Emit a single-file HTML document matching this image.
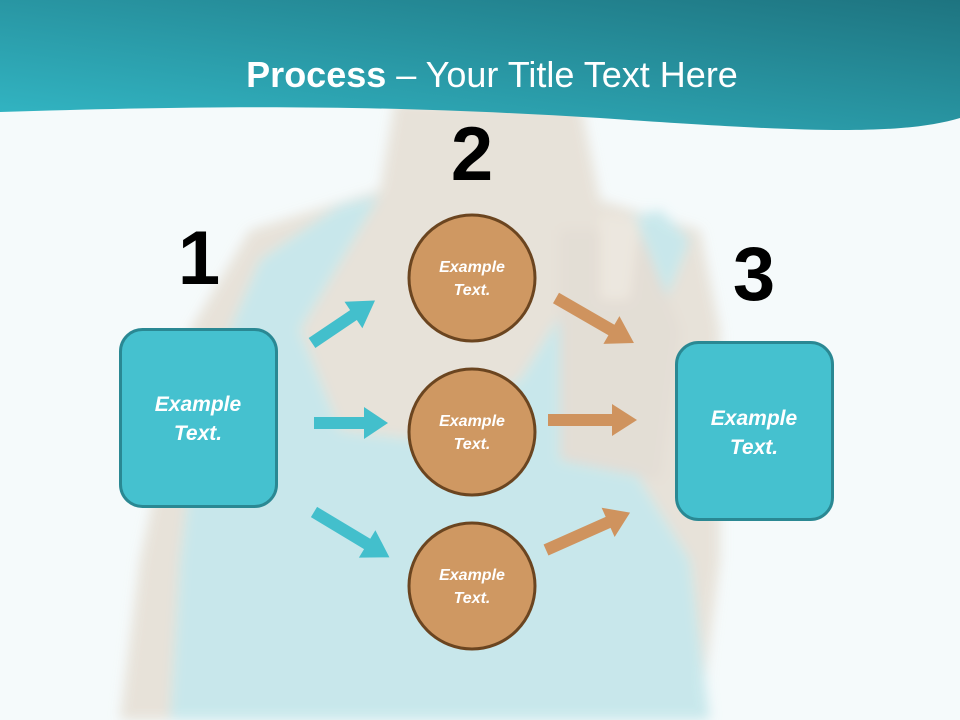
<!DOCTYPE html>
<html><head><meta charset="utf-8"><style>
html,body{margin:0;padding:0;background:#f5fafb}
svg{display:block}
text{font-family:"Liberation Sans",sans-serif}
</style></head><body>
<svg width="960" height="720" viewBox="0 0 960 720" xmlns="http://www.w3.org/2000/svg">
<defs>
<linearGradient id="hg" x1="0" y1="1" x2="1" y2="0">
<stop offset="0" stop-color="#33b8c6"/><stop offset="1" stop-color="#1e7480"/>
</linearGradient>
<filter id="bl"><feGaussianBlur stdDeviation="6"/></filter>
</defs>
<rect width="960" height="720" fill="#f5fafb"/>
<g filter="url(#bl)" opacity="0.9">
<path d="M395 100 L580 100 L600 200 L700 230 L720 330 L720 560 L700 720 L120 720 L140 560 L190 330 L250 230 L380 190 Z" fill="#e6e0d6"/>
<path d="M340 205 L380 195 L300 330 L340 430 L420 440 L520 380 L620 220 L660 210 L690 240 L650 340 L640 480 L690 560 L710 720 L170 720 L180 560 L200 400 L260 260 Z" fill="#c4e6ea"/>
<path d="M560 230 L640 230 L680 330 L660 480 L560 460 Z" fill="#e2dbd1"/>
<path d="M600 215 L640 220 L630 300 L600 300 Z" fill="#ece5dc"/>
</g>
<path d="M0 0 L960 0 L960 118 C900 136 800 132 600 118 C400 106 250 104 0 112 Z" fill="url(#hg)"/>
<text x="492" y="87" text-anchor="middle" font-size="36" fill="#fff"><tspan font-weight="bold">Process</tspan> – Your Title Text Here</text>

<g font-weight="bold" font-size="76" fill="#000" text-anchor="middle">
<text x="199" y="284">1</text>
<text x="472" y="180">2</text>
<text x="754" y="300">3</text>
</g>

<g fill="#43bfcc">
<polygon points="0,-6 50,-6 50,-16 76,0 50,16 50,6 0,6" transform="translate(312,343) rotate(-34)"/>
<polygon points="0,-6 50,-6 50,-16 74,0 50,16 50,6 0,6" transform="translate(314,423)"/>
<polygon points="0,-6 62,-6 62,-16 88,0 62,16 62,6 0,6" transform="translate(314,512) rotate(31)"/>
</g>
<g fill="#cf935e">
<polygon points="0,-6 64,-6 64,-16 90,0 64,16 64,6 0,6" transform="translate(556,298) rotate(30)"/>
<polygon points="0,-6 64,-6 64,-16 89,0 64,16 64,6 0,6" transform="translate(548,420)"/>
<polygon points="0,-6 68,-6 68,-16 92,0 68,16 68,6 0,6" transform="translate(546,550) rotate(-24)"/>
</g>

<g fill="#cf9862" stroke="#6b4520" stroke-width="3">
<ellipse cx="472" cy="278" rx="63" ry="63"/>
<ellipse cx="472" cy="432" rx="63" ry="63"/>
<ellipse cx="472" cy="586" rx="63" ry="63"/>
</g>
<g fill="#45c1cf" stroke="#2a8893" stroke-width="3">
<rect x="120.5" y="329.5" width="156" height="177" rx="22"/>
<rect x="676.5" y="342.5" width="156" height="177" rx="22"/>
</g>
<g fill="#fff" font-weight="bold" font-style="italic" text-anchor="middle">
<text x="472" y="272" font-size="16">Example</text><text x="472" y="295" font-size="16">Text.</text>
<text x="472" y="426" font-size="16">Example</text><text x="472" y="449" font-size="16">Text.</text>
<text x="472" y="580" font-size="16">Example</text><text x="472" y="603" font-size="16">Text.</text>
<text x="198" y="411" font-size="21">Example</text><text x="198" y="440" font-size="21">Text.</text>
<text x="754" y="425" font-size="21">Example</text><text x="754" y="454" font-size="21">Text.</text>
</g>
</svg>
</body></html>
